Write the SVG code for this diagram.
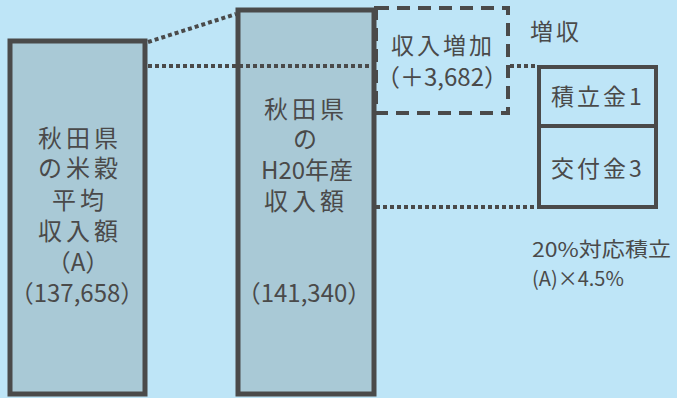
<svg xmlns="http://www.w3.org/2000/svg" width="677" height="398" viewBox="0 0 677 398">
<style>
text{font-family:"Noto Sans CJK JP","Noto Sans",sans-serif;fill:#4a4a4a;text-anchor:middle}
.big{font-size:24px}
.sp{letter-spacing:4px}
.mid{font-size:23px;letter-spacing:3px}
.sm{font-size:20px;text-anchor:start}
.bar{fill:#a9c9d6;stroke:#4a4a4a;stroke-width:5}
.dot{fill:none;stroke:#4a4a4a;stroke-width:4;stroke-dasharray:4 3}
.dash{fill:none;stroke:#4a4a4a;stroke-width:4;stroke-dasharray:13 8}
.box{fill:none;stroke:#4a4a4a;stroke-width:4}
</style>
<rect width="677" height="398" fill="#bee5f7"/>
<g id="avg">
<rect class="bar" x="10" y="41" width="135" height="353"/>
<text class="big sp" x="80" y="147">秋田県</text>
<text class="big sp" x="80" y="177">の米穀</text>
<text class="big sp" x="80" y="209">平均</text>
<text class="big sp" x="80" y="240">収入額</text>
<text class="big" x="78" y="271">（A）</text>
<text class="big" x="77" y="302">（137,658）</text>
</g>
<g id="h20">
<rect class="bar" x="238" y="10" width="136" height="384"/>
<text class="big sp" x="306" y="118">秋田県</text>
<text class="big" x="305" y="148">の</text>
<text class="big" x="307" y="179">H20年産</text>
<text class="big sp" x="306" y="210">収入額</text>
<text class="big" x="304" y="302">（141,340）</text>
</g>
<g id="increase">
<rect class="dash" x="376" y="8" width="132" height="105"/>
<text class="mid" x="443" y="54">収入増加</text>
<text class="big" x="442" y="86">（＋3,682）</text>
</g>
<g id="zoushu">
<text class="mid" x="556" y="40">増収</text>
</g>
<g id="fund">
<rect class="box" x="539" y="67" width="117" height="140"/>
<line class="box" x1="539" y1="126" x2="656" y2="126"/>
<text class="mid" x="598" y="105">積立金1</text>
<text class="mid" x="598" y="177">交付金3</text>
</g>
<g id="note">
<text class="sm" x="532" y="257" textLength="139" lengthAdjust="spacingAndGlyphs">20%対応積立</text>
<text class="sm" x="532" y="286">(A)×4.5%</text>
</g>
<g id="connectors">
<line class="dot" x1="148" y1="42" x2="236" y2="14"/>
<line class="dot" x1="148" y1="66" x2="376" y2="66"/>
<line class="dot" x1="510" y1="66" x2="537" y2="66"/>
<line class="dot" x1="376" y1="207" x2="537" y2="207"/>
</g>
</svg>
